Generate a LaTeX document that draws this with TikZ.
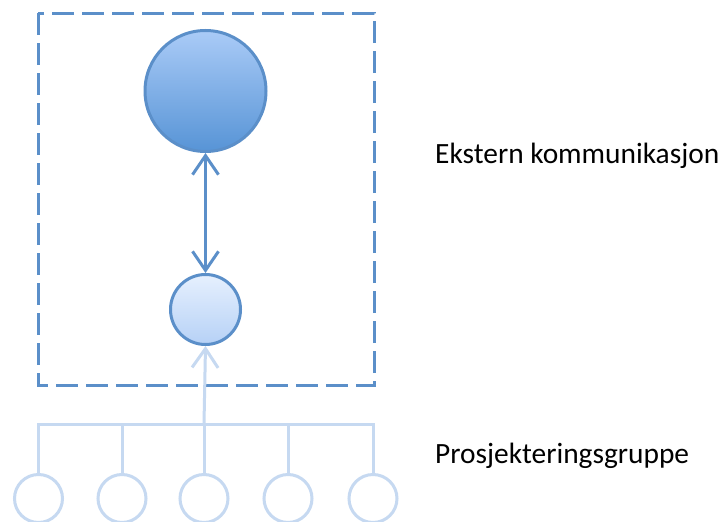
\documentclass[tikz,border=0pt]{standalone}
\usepackage{fontspec}
\setmainfont{Carlito}
\usetikzlibrary{arrows.meta}
\definecolor{edgeblue}{HTML}{5B8FC9}
\definecolor{paleblue}{HTML}{C6D9F1}
\definecolor{bigtop}{HTML}{AACBF7}
\definecolor{bigbot}{HTML}{5794D6}
\definecolor{smalltop}{HTML}{E6F0FE}
\definecolor{smallbot}{HTML}{B6D1F6}
\tikzset{
  groupframe/.style={draw=edgeblue, line width=3pt, dash pattern=on 22pt off 8pt},
  bigball/.style={circle, draw=edgeblue, line width=3pt, minimum size=121pt, inner sep=0pt,
    top color=bigtop, bottom color=bigbot},
  smallball/.style={circle, draw=edgeblue, line width=3pt, minimum size=70pt, inner sep=0pt,
    top color=smalltop, bottom color=smallbot},
  member/.style={circle, draw=paleblue, line width=3pt, minimum size=48pt, inner sep=0pt, fill=white},
  tip/.style={Straight Barb[length=19pt,width=26pt,line width=3pt]},
  link/.style={draw=edgeblue, line width=3pt, {Straight Barb[length=19pt,width=26pt,line width=3pt]}-{Straight Barb[length=19pt,width=26pt,line width=3pt]}},
  feed/.style={draw=paleblue, line width=3pt, -{Straight Barb[length=19pt,width=26pt,line width=3pt]}},
  bus/.style={draw=paleblue, line width=3pt},
  caption/.style={anchor=base west, inner sep=0pt, font=\fontsize{29.4}{34}\selectfont, text=black}
}
\begin{document}
\begin{tikzpicture}[x=1pt, y=-1pt]
  \useasboundingbox (0,0) rectangle (723,522);
  \fill[white] (0,0) rectangle (723,522);

  % dashed frame around the communication pair
  \draw[groupframe] (38,13) rectangle (374,385);

  % communication nodes
  \node[bigball] (ext) at (205.5,91) {};
  \node[smallball] (lead) at (205.5,309.5) {};
  \draw[link] (ext.south) -- (lead.north);

  % project group members
  \node[member] (m1) at (38.5,498.5) {};
  \node[member] (m2) at (122,498.5) {};
  \node[member] (m3) at (204,498.5) {};
  \node[member] (m4) at (288,498.5) {};
  \node[member] (m5) at (373,498.5) {};
  \coordinate (hub) at (204,424);

  \draw[bus] (m1.north) -- (m1.north |- hub) -- (m5.north |- hub) -- (m5.north);
  \draw[bus] (m2.north) -- (m2.north |- hub);
  \draw[bus] (m3.north) -- (m3.north |- hub);
  \draw[bus] (m4.north) -- (m4.north |- hub);
  \draw[feed] (hub) -- (lead.south);

  % labels
  \node[caption] (lblext) at (435,163) {Ekstern kommunikasjon};
  \node[caption] (lblgrp) at (435,463) {Prosjekteringsgruppe};
\end{tikzpicture}
\end{document}
